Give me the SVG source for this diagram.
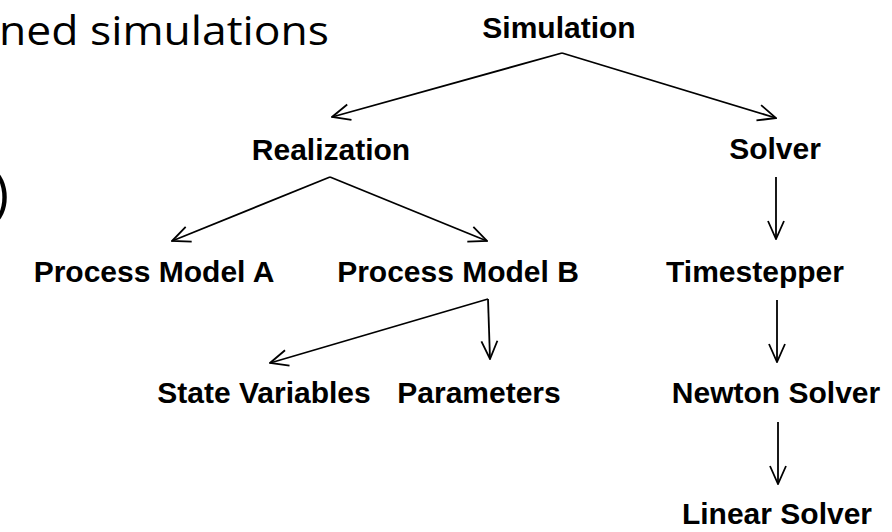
<svg xmlns="http://www.w3.org/2000/svg" width="892" height="532" viewBox="0 0 892 532">
<defs>
<style>
.n{font-family:"Liberation Sans",Arial,sans-serif;font-weight:bold;font-size:30px;fill:#000;text-anchor:middle}
.s{font-family:"Open Sans","Noto Sans",sans-serif;fill:#000}
.c line{stroke:#000;stroke-width:1.8;marker-end:url(#ah)}
</style>
<marker id="ah" viewBox="0 0 20 20" refX="19" refY="10" markerWidth="20" markerHeight="20" markerUnits="userSpaceOnUse" orient="auto">
<path d="M1,2 L19,10 L1,18" fill="none" stroke="#000" stroke-width="1.8"/>
</marker>
</defs>
<rect width="892" height="532" fill="#fff"/>
<text class="s" x="-1" y="45" font-size="40" textLength="330" lengthAdjust="spacingAndGlyphs">ned simulations</text>
<text class="s" x="-7" y="212" font-size="54">)</text>
<g id="connectors" class="c">
<line x1="562" y1="53" x2="332" y2="117"/>
<line x1="562" y1="53" x2="776" y2="118"/>
<line x1="330" y1="177" x2="172" y2="241"/>
<line x1="330" y1="177" x2="487" y2="241"/>
<line x1="776" y1="177" x2="776" y2="239"/>
<line x1="488" y1="299" x2="270" y2="363"/>
<line x1="488" y1="299" x2="490" y2="359"/>
<line x1="777" y1="300" x2="777" y2="362"/>
<line x1="778" y1="422" x2="778" y2="484"/>
</g>
<g id="simulation"><text class="n" x="559" y="38">Simulation</text></g>
<g id="realization"><text class="n" x="331" y="160">Realization</text></g>
<g id="solver"><text class="n" x="775" y="159">Solver</text></g>
<g id="process-model-a"><text class="n" x="154" y="282">Process Model A</text></g>
<g id="process-model-b"><text class="n" x="458" y="282">Process Model B</text></g>
<g id="timestepper"><text class="n" x="755" y="282">Timestepper</text></g>
<g id="state-variables"><text class="n" x="264" y="403">State Variables</text></g>
<g id="parameters"><text class="n" x="479" y="403">Parameters</text></g>
<g id="newton-solver"><text class="n" x="776" y="403">Newton Solver</text></g>
<g id="linear-solver"><text class="n" x="777" y="524">Linear Solver</text></g>
</svg>
